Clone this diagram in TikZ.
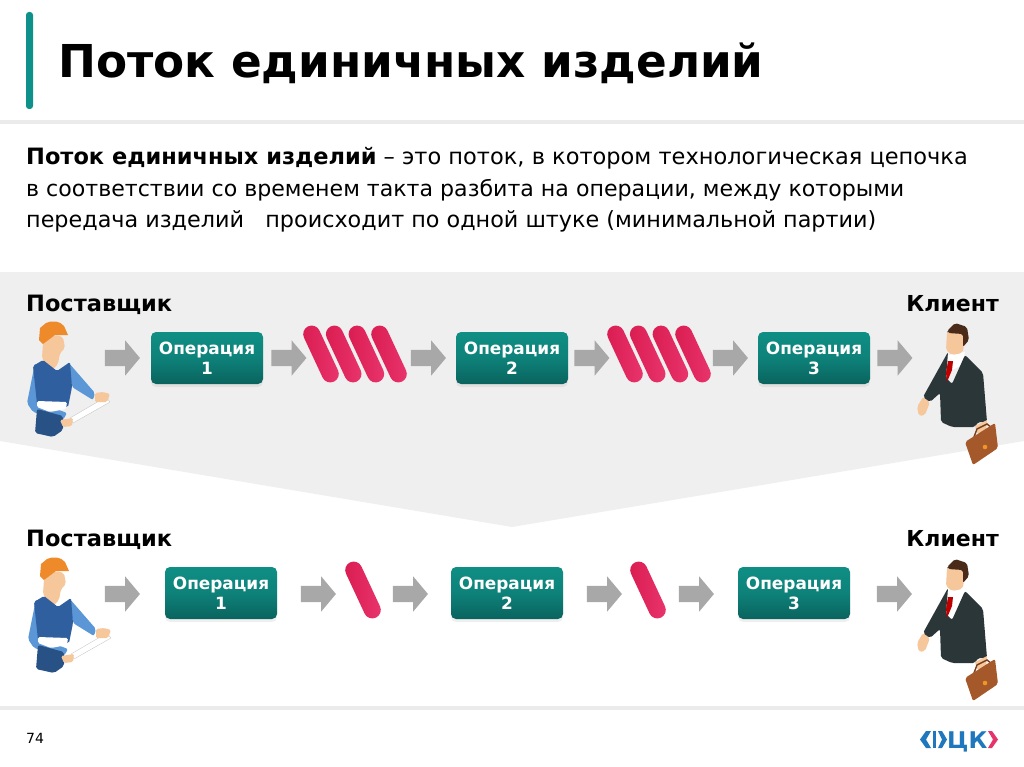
\documentclass[tikz,border=0pt]{standalone}
\usepackage{fontspec}
\setmainfont{DejaVu Sans}
\usetikzlibrary{shapes.arrows,shadows}
\definecolor{teal1}{HTML}{0F8F85}
\definecolor{teal2}{HTML}{0A635E}
\definecolor{tealbar}{HTML}{0E918A}
\definecolor{band}{HTML}{EFEFEF}
\definecolor{arrowgray}{HTML}{A8A8A8}
\definecolor{pink1}{HTML}{D91C50}
\definecolor{pink2}{HTML}{E9356E}
\definecolor{logoblue}{HTML}{1F78BE}
\definecolor{logopink}{HTML}{E6336B}
\definecolor{skin}{HTML}{F6C79B}
\definecolor{vest}{HTML}{2F5F9E}
\definecolor{sleeve}{HTML}{5B96D6}
\definecolor{hat}{HTML}{EE8A2A}
\definecolor{suit}{HTML}{2B3638}
\definecolor{hair}{HTML}{4A2A18}
\definecolor{leather}{HTML}{A5582A}
\tikzset{
  x=1pt,y=-1pt,
  opbox/.style={rectangle,rounded corners=5pt,minimum width=112pt,minimum height=52pt,inner sep=0pt,
    top color=teal1,bottom color=teal2,middle color=teal1!70!teal2,text=white,align=center,
    font=\fontsize{16.9}{20}\selectfont\bfseries,
    drop shadow={opacity=.12,shadow xshift=0pt,shadow yshift=-3pt}},
  grayarrow/.style={single arrow,draw=none,fill=arrowgray,minimum height=35pt,text width=1pt,
    text height=16pt,text depth=0pt,inner sep=0pt,xshift=-3.5pt,
    single arrow head extend=9.5pt,single arrow tip angle=100},
  partbar/.style={rectangle,rounded corners=8.5pt,minimum width=61pt,minimum height=17pt,inner sep=0pt,
    rotate=-65,left color=pink1,right color=pink2},
  rolelabel/.style={font=\fontsize{22.5}{24}\selectfont\bfseries,text=black,inner sep=0pt},
  worker/.pic={
    \fill[sleeve,rounded corners=2pt] (35,363)--(27,403)--(33,412)--(63,420)--(67,413)--(38,402)--(44,378)--cycle;
    \fill[vest!85!black,rounded corners=2pt] (37,409)--(63,416)--(63,430)--(53,437)--(35,433)--cycle;
    \fill[skin,rounded corners=2pt] (43,343)--(55,335)--(63,337)--(65,348)--(60,353)--(58,364)--(50,372)--(42,358)--cycle;
    \fill[sleeve,rounded corners=2pt] (68,362)--(95,393)--(93,400)--(72,387)--cycle;
    \fill[vest,rounded corners=1.5pt] (33,366)--(43,360)--(57,371)--(70,362)--(72,387)--(68,407)--(37,404)--cycle;
    \fill[white,rounded corners=1.5pt] (37,401)--(67,402)--(66,409)--(50,412)--(37,407)--cycle;
    \fill[hat] (39,340)--(40,328)--(46,323) .. controls (52,320) and (60,321) .. (64,326)--(68,335)--(55,335)--(43,344)--cycle;
    \fill[white,draw=black!25,line width=.3pt] (70,418)--(106,397)--(110,402)--(73,423)--cycle;
    \fill[skin,rounded corners=1.5pt] (95,393)--(103,392)--(110,394)--(107,402)--(95,402)--cycle;
    \fill[skin,rounded corners=1.5pt] (60,420)--(73,418)--(72,426)--(63,427)--cycle;
  },
  client/.pic={
    \fill[skin,rounded corners=2pt] (923,397)--(917,407)--(919,416)--(925,415)--(930,402)--cycle;
    \fill[white] (948,355)--(965,352)--(962,365)--(948,372)--cycle;
    \fill[suit,rounded corners=2pt] (948,352)--(923,397)--(930,402)--(940,393)--(941,422)--(952,427)--(975,427)--(978,422)--(987,422)--(983,373)--(965,355)--(952,384)--(946,378)--cycle;
    \fill[red!75!black] (948,361)--(953,361)--(952,370)--(947,382)--(946,373)--cycle;
    \fill[skin,rounded corners=2pt] (947,332)--(963,333)--(964,347)--(962,353)--(952,355)--(946,350)--cycle;
    \fill[hair,rounded corners=2pt] (947,331)--(955,323)--(967,327)--(969,340)--(963,347)--(963,334)--(948,333)--cycle;
    \fill[skin] (975,426)--(987,420)--(986,432)--(977,433)--cycle;
    \draw[leather!70!black,line width=1.4pt] (974,437)--(977,429)--(987,424)--(992,428);
    \fill[leather,rounded corners=2pt] (965,442)--(995,423)--(998,448)--(973,465)--cycle;
    \fill[hat!90!yellow] (985,447) circle (2.3);
  },
}
\begin{document}
\begin{tikzpicture}
\useasboundingbox (0,0) rectangle (1024,767);
\fill[white] (0,0) rectangle (1024,767);
% rules
\fill[black!8] (0,120) rectangle (1024,124);
\fill[black!8] (0,706) rectangle (1024,710);
\fill[tealbar,rounded corners=3pt] (26,12) rectangle (33,109);
% band
\fill[band] (0,272)--(1024,272)--(1024,441)--(512,527)--(0,441)--cycle;
% title
\node[anchor=base west,inner sep=0pt,font=\fontsize{45.3}{48}\selectfont\bfseries] (title) at (58,78) {Поток единичных изделий};
\node[anchor=north west,inner sep=0pt,align=left,font=\fontsize{22.5}{31.6}\selectfont] (intro) at (26,147)
 {\textbf{Поток единичных изделий} – это поток, в котором технологическая цепочка\\
  {\fontsize{22.1}{31.6}\selectfont в соответствии со временем такта разбита на операции, между которыми}\\
  {\fontsize{22.3}{31.6}\selectfont передача изделий \ \ происходит по одной штуке (минимальной партии)}};
\node[rolelabel,anchor=base west] (sup1) at (26,311) {Поставщик};
\node[rolelabel,anchor=base east,font=\fontsize{22}{24}\selectfont\bfseries] (cli1) at (999,311) {Клиент};
\node[rolelabel,anchor=base west] (sup2) at (26,546) {Поставщик};
\node[rolelabel,anchor=base east,font=\fontsize{22}{24}\selectfont\bfseries] (cli2) at (999,546) {Клиент};
% people
\pic at (0,0) {worker};
\pic at (1,236) {worker};
\pic at (0,0) {client};
\pic at (0,236) {client};
% top row
\node[opbox] (a1) at (207,358) {Операция\\1};
\node[opbox] (a2) at (512,358) {Операция\\2};
\node[opbox] (a3) at (814,358) {Операция\\3};
\foreach \n/\x in {ua1/122.5,ua2/289,ua3/428.5,ua4/592,ua5/730.5,ua6/895}{
  \node[grayarrow] (\n) at (\x,358) {};
}
\foreach \n/\x in {p1/321,p2/343.7,p3/366.4,p4/389,p5/625,p6/647.7,p7/670.4,p8/693}{
  \node[partbar] (\n) at (\x,354) {};
}
% bottom row
\node[opbox] (b1) at (221,593) {Операция\\1};
\node[opbox] (b2) at (507,593) {Операция\\2};
\node[opbox] (b3) at (794,593) {Операция\\3};
\foreach \n/\x in {la1/122.5,la2/318.5,la3/410.5,la4/604.5,la5/696.5,la6/894.5}{
  \node[grayarrow] (\n) at (\x,594) {};
}
\node[partbar] (q1) at (363,590) {};
\node[partbar] (q2) at (648,590) {};
% logo
\fill[logoblue] (926,731)--(920,739.5)--(926,748)--(931,748)--(926,739.5)--(931,731)--cycle;
\fill[logoblue] (932.5,731) rectangle (936,748);
\fill[logoblue] (938,731)--(942,731)--(947,739.5)--(942,748)--(938,748)--(942,739.5)--cycle;
\node[anchor=base west,inner sep=0pt,font=\fontsize{23}{24}\selectfont\bfseries,text=logoblue] (logo) at (947,748) {ЦК};
\fill[logopink] (988,731)--(992,731)--(998,739.5)--(992,748)--(988,748)--(993,739.5)--cycle;
\node[anchor=base west,inner sep=0pt,font=\fontsize{14}{16}\selectfont] (page) at (26,743) {74};
\end{tikzpicture}
\end{document}
